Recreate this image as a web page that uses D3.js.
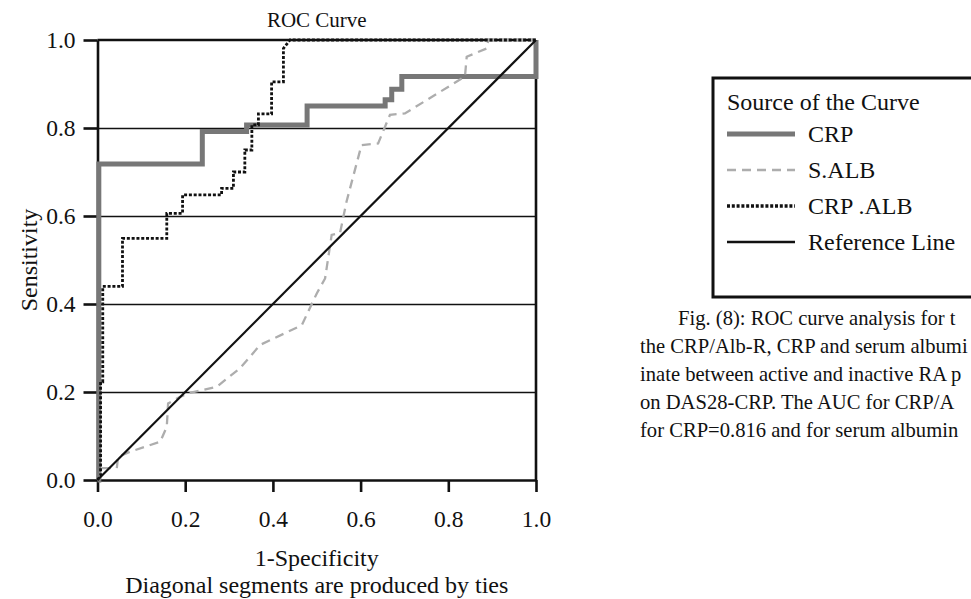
<!DOCTYPE html>
<html>
<head>
<meta charset="utf-8">
<script src="https://cdn.jsdelivr.net/npm/d3@7"></script>
<style>
  body { margin: 0; background: #fff; }
  text { font-family: "Liberation Serif", "Times New Roman", serif; fill: #111; }
</style>
</head>
<body>
<div id="chart"></div>
<script>
// ROC curve points: [1-specificity, sensitivity]
const crpPoints = [[0,0],[0.003,0],[0.003,0.718],[0.239,0.718],[0.239,0.792],[0.34,0.792],[0.34,0.807],
  [0.478,0.807],[0.478,0.85],[0.656,0.85],[0.656,0.864],[0.671,0.864],[0.671,0.888],[0.694,0.888],
  [0.694,0.917],[1,0.917],[1,1]];
const salbPoints = [[0,0],[0.006,0.004],[0.006,0.027],[0.044,0.027],[0.047,0.053],[0.074,0.064],
  [0.143,0.087],[0.158,0.121],[0.161,0.174],[0.188,0.189],[0.211,0.198],[0.272,0.212],[0.325,0.254],
  [0.371,0.307],[0.466,0.352],[0.5,0.424],[0.519,0.458],[0.534,0.557],[0.553,0.561],[0.568,0.633],
  [0.602,0.761],[0.64,0.765],[0.667,0.83],[0.701,0.833],[0.838,0.917],[0.842,0.962],[0.888,0.981],
  [0.891,1],[1,1]];
const crpAlbPoints = [[0,0],[0.007,0.01],[0.007,0.223],[0.012,0.223],[0.012,0.44],[0.057,0.44],
  [0.057,0.549],[0.158,0.549],[0.158,0.606],[0.194,0.606],[0.194,0.648],[0.283,0.648],[0.283,0.663],
  [0.31,0.663],[0.31,0.70],[0.336,0.70],[0.336,0.75],[0.352,0.75],[0.352,0.807],[0.367,0.807],
  [0.367,0.832],[0.397,0.832],[0.397,0.905],[0.424,0.905],[0.424,0.981],[0.439,1],[1,1]];
const refPoints = [[0,0],[1,1]];

const ticks = [0, 0.2, 0.4, 0.6, 0.8, 1.0];
const gridTicks = [0.2, 0.4, 0.6, 0.8];

const legendLabels = ["CRP", "S.ALB", "CRP .ALB", "Reference Line"];
// caption text as far as it is visible in the cropped figure
const captionLines = [
  "Fig. (8): ROC curve analysis for t",
  "the CRP/Alb-R, CRP and serum albumi",
  "inate between active and inactive RA p",
  "on DAS28-CRP. The AUC for CRP/A",
  "for CRP=0.816 and for serum albumin"
];

const width = 971, height = 599;
const svg = d3.select("#chart").append("svg")
  .attr("width", width)
  .attr("height", height);

const x = d3.scaleLinear().domain([0, 1]).range([97.5, 536]);
const y = d3.scaleLinear().domain([0, 1]).range([480, 40]);

// series styles
const styles = {
  "CRP":            { stroke: "#777777", width: 5,   lw: 5,   dash: null },
  "S.ALB":          { stroke: "#adadad", width: 2.3, lw: 2.3, dash: "9,6" },
  "CRP .ALB":       { stroke: "#111",    width: 2.8, lw: 3.6, dash: "3,1.8" },
  "Reference Line": { stroke: "#111",    width: 2.2, lw: 2.4, dash: null }
};
const seriesData = {
  "CRP": crpPoints, "S.ALB": salbPoints, "CRP .ALB": crpAlbPoints, "Reference Line": refPoints
};

// gridlines
svg.append("g").selectAll("line")
  .data(gridTicks)
  .enter().append("line")
  .attr("x1", x(0)).attr("x2", x(1))
  .attr("y1", d => Math.round(y(d)) + 0.5).attr("y2", d => Math.round(y(d)) + 0.5)
  .attr("stroke", "#111").attr("stroke-width", 1.3);

// frame top + right
svg.append("line").attr("x1", x(0)).attr("x2", x(1)).attr("y1", y(1)).attr("y2", y(1))
  .attr("stroke", "#111").attr("stroke-width", 2.6);
svg.append("line").attr("x1", x(1)).attr("x2", x(1)).attr("y1", y(1)).attr("y2", y(0))
  .attr("stroke", "#111").attr("stroke-width", 2.6);

// axes
const yAxis = svg.append("g")
  .attr("transform", `translate(${x(0)},0)`)
  .call(d3.axisLeft(y).tickValues(ticks).tickFormat(d3.format(".1f")).tickSize(14).tickSizeOuter(0).tickPadding(8));
const xAxis = svg.append("g")
  .attr("transform", `translate(0,${y(0)})`)
  .call(d3.axisBottom(x).tickValues(ticks).tickFormat(d3.format(".1f")).tickSize(12).tickSizeOuter(0).tickPadding(18));

[yAxis, xAxis].forEach(a => {
  a.select(".domain").attr("stroke", "#111").attr("stroke-width", 2.6);
  a.selectAll(".tick line").attr("stroke", "#111").attr("stroke-width", 2.6);
  a.selectAll(".tick text").attr("font-size", 23.5).attr("fill", "#111")
    .style("font-family", "'Liberation Serif', serif");
});

// curves
const line = d3.line().x(d => x(d[0])).y(d => y(d[1]));
svg.append("g").selectAll("path")
  .data(legendLabels)
  .enter().append("path")
  .attr("d", d => line(seriesData[d]))
  .attr("fill", "none")
  .attr("stroke", d => styles[d].stroke)
  .attr("stroke-width", d => styles[d].width)
  .attr("stroke-dasharray", d => styles[d].dash)
  .attr("stroke-linejoin", "miter");

// titles
svg.append("text").attr("x", (x(0) + x(1)) / 2).attr("y", 27)
  .attr("text-anchor", "middle").attr("font-size", 21).text("ROC Curve");
svg.append("text").attr("x", (x(0) + x(1)) / 2).attr("y", 566)
  .attr("text-anchor", "middle").attr("font-size", 24).text("1-Specificity");
svg.append("text").attr("x", (x(0) + x(1)) / 2).attr("y", 593)
  .attr("text-anchor", "middle").attr("font-size", 24).text("Diagonal segments are produced by ties");
svg.append("text")
  .attr("transform", `translate(37,${(y(0) + y(1)) / 2}) rotate(-90)`)
  .attr("text-anchor", "middle").attr("font-size", 24).text("Sensitivity");

// legend
const lg = svg.append("g");
lg.append("rect").attr("x", 713).attr("y", 78).attr("width", 300).attr("height", 219)
  .attr("fill", "#fff").attr("stroke", "#111").attr("stroke-width", 3);
lg.append("text").attr("x", 727).attr("y", 110).attr("font-size", 24).text("Source of the Curve");
const items = lg.selectAll(".item")
  .data(legendLabels)
  .enter().append("g")
  .attr("transform", (d, i) => `translate(727,${134 + i * 36})`);
items.append("line").attr("x1", 0).attr("x2", 68).attr("y1", 0).attr("y2", 0)
  .attr("stroke", d => styles[d].stroke)
  .attr("stroke-width", d => styles[d].lw)
  .attr("stroke-dasharray", d => styles[d].dash);
items.append("text").attr("x", 81).attr("y", 8).attr("font-size", 24).text(d => d);

// caption
svg.append("g").selectAll("text")
  .data(captionLines)
  .enter().append("text")
  .attr("x", (d, i) => i === 0 ? 678 : 640)
  .attr("y", (d, i) => 325 + i * 28)
  .attr("font-size", 20.6)
  .text(d => d);
</script>
</body>
</html>
